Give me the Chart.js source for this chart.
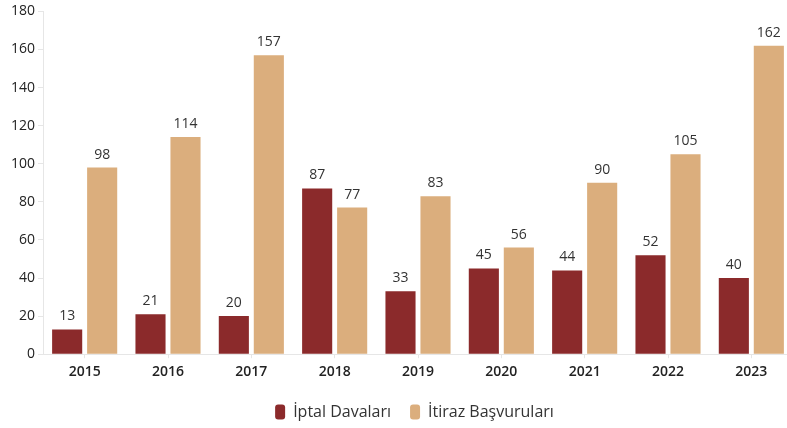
<!DOCTYPE html>
<html>
<head>
<meta charset="utf-8">
<script src="https://cdn.jsdelivr.net/npm/chart.js@4/dist/chart.umd.min.js"></script>
<style>
  html, body { margin: 0; padding: 0; background: #fff; }
  #wrap { width: 787px; height: 428px; overflow: hidden; }
</style>
</head>
<body>
<div id="wrap"><canvas id="chart" width="828" height="430"></canvas></div>
<script>
// Data
const years = ["2015", "2016", "2017", "2018", "2019", "2020", "2021", "2022", "2023"];
const iptalDavalari = [13, 21, 20, 87, 33, 45, 44, 52, 40];
const itirazBasvurulari = [98, 114, 157, 77, 83, 56, 90, 105, 162];
const yTicks = [0, 20, 40, 60, 80, 100, 120, 140, 160, 180];

// Draw numbers above the bars
const valueLabels = {
    id: "valueLabels",
    afterDatasetsDraw(chart) {
        const ctx = chart.ctx;
        ctx.save();
        ctx.font = "14px 'Open Sans'";
        ctx.fillStyle = "#333";
        ctx.textAlign = "center";
        ctx.textBaseline = "bottom";
        chart.data.datasets.forEach((ds, i) => {
            chart.getDatasetMeta(i).data.forEach((bar, j) => {
                ctx.fillText(ds.data[j], bar.x, bar.y - 6);
            });
        });
        ctx.restore();
    }
};

const ctx = document.getElementById("chart").getContext("2d");
new Chart(ctx, {
    type: "bar",
    data: {
        labels: years,
        datasets: [
            {
                label: "İptal Davaları",
                data: iptalDavalari,
                backgroundColor: "#8B2A2B",
                barPercentage: 0.86,
                categoryPercentage: 0.84
            },
            {
                label: "İtiraz Başvuruları",
                data: itirazBasvurulari,
                backgroundColor: "#DBAE7D",
                barPercentage: 0.86,
                categoryPercentage: 0.84
            }
        ]
    },
    options: {
        responsive: false,
        animation: false,
        layout: { padding: { top: 10, right: 0, left: 1, bottom: 0 } },
        plugins: {
            legend: {
                position: "bottom",
                labels: {
                    font: { family: "'Open Sans'", size: 16 },
                    color: "#333",
                    boxWidth: 10,
                    boxHeight: 15,
                    useBorderRadius: true,
                    borderRadius: 3,
                    padding: 19
                }
            },
            tooltip: { enabled: false }
        },
        scales: {
            x: {
                grid: { display: true, drawOnChartArea: false, offset: false, tickLength: 4, color: "#e6e6e6" },
                border: { color: "#e6e6e6" },
                ticks: {
                    font: { family: "'Open Sans'", size: 14, weight: "600" },
                    color: "#222",
                    padding: 5
                }
            },
            y: {
                min: 0,
                max: 180,
                afterBuildTicks(axis) {
                    axis.ticks = yTicks.map(v => ({ value: v }));
                },
                afterFit(axis) { axis.width = 42; },
                grid: { display: true, drawOnChartArea: false, tickLength: 5, color: "#e6e6e6" },
                border: { color: "#e6e6e6" },
                ticks: {
                    font: { family: "'Open Sans'", size: 14 },
                    color: "#222",
                    padding: 3
                }
            },
            // empty right axis: keeps the plot ending just past the window edge
            spacer: {
                position: "right",
                afterFit(axis) { axis.width = 35; },
                grid: { display: false },
                border: { display: false },
                ticks: { display: false }
            }
        }
    },
    plugins: [valueLabels]
});
</script>
</body>
</html>
